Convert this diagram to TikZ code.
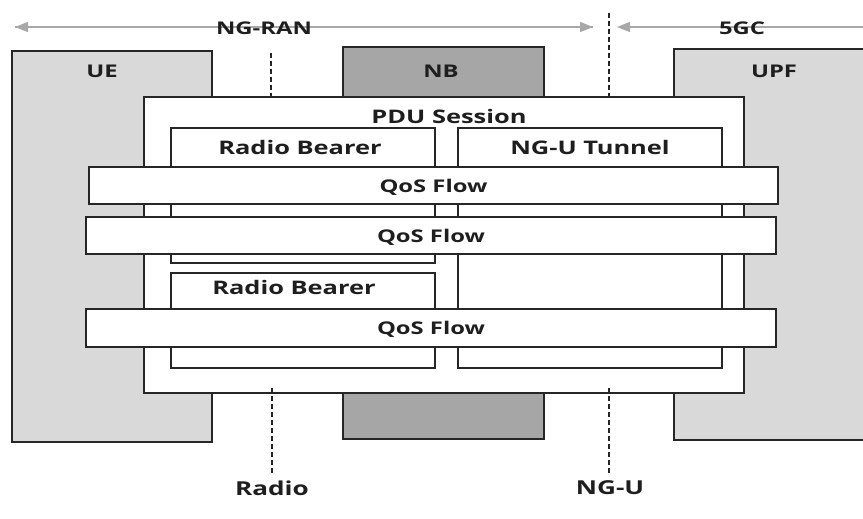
\documentclass[tikz,border=0pt]{standalone}
\usepackage{fontspec}
\setmainfont[FakeStretch=1.36]{Open Sans}
\usetikzlibrary{arrows.meta}
\definecolor{lightg}{HTML}{D9D9D9}
\definecolor{darkg}{HTML}{A6A6A6}
\definecolor{arrg}{HTML}{A8A8A8}
\definecolor{txt}{HTML}{1E1E1E}
\tikzset{
  box/.style={draw=black!85, line width=1.4pt, inner sep=0pt, outer sep=0pt, anchor=north west},
  lbl/.style={font=\fontsize{17.5}{20}\selectfont\bfseries, text=txt, inner sep=0pt},
  biglbl/.style={lbl, font=\fontsize{18.7}{21}\selectfont\bfseries},
  botlbl/.style={lbl, font=\fontsize{19.2}{21}\selectfont\bfseries},
  arr/.style={draw=arrg, line width=1.2pt, -{Triangle[length=13pt,width=10pt]}},
  divider/.style={draw=black!85, line width=1.5pt, dash pattern=on 5pt off 3pt}
}
\newcommand{\bx}[6]{\node[box, fill=#2, minimum width=#5pt-#3pt, minimum height=#6pt-#4pt] (#1) at (#3,#4) {};}
\begin{document}
\begin{tikzpicture}[x=1pt,y=-1pt]
\useasboundingbox (0,0) rectangle (863,519);
\clip (0,0) rectangle (863,519);
% top arrows
\coordinate (ranL) at (15,27);
\coordinate (ranR) at (593,27);
\coordinate (cnL) at (617,27);
\coordinate (cnR) at (900,27);
\draw[arr] (ranR) -- (ranL);
\draw[arr] (ranL) -- (ranR);
\draw[arr] (cnR) -- (cnL);
\node[lbl] (ngran) at (264,28) {NG-RAN};
\node[lbl] (fivegc) at (742,28) {5GC};
% network element boxes
\bx{ue}{lightg}{12}{51}{212}{442}
\bx{nb}{darkg}{343}{47}{544}{439}
\bx{upf}{lightg}{674}{49}{900}{440}
\node[lbl] (uelbl) at (102,71) {UE};
\node[lbl] (nblbl) at (441,71) {NB};
\node[lbl] (upflbl) at (774,71) {UPF};
% PDU session
\bx{pdu}{white}{144}{97}{744}{393}
\node[biglbl] (pdulbl) at (449,116) {PDU Session};
\bx{rb1}{white}{171}{128}{435}{263}
\bx{ngu}{white}{458}{128}{722}{368}
\bx{rb2}{white}{171}{273}{435}{368}
\node[biglbl] (rb1lbl) at (300,147) {Radio Bearer};
\node[biglbl] (ngulbl) at (590,147) {NG-U Tunnel};
\node[biglbl] (rb2lbl) at (294,287) {Radio Bearer};
% QoS flows
\bx{q1}{white}{89}{167}{778}{204}
\bx{q2}{white}{86}{217}{776}{254}
\bx{q3}{white}{86}{309}{776}{347}
\node[lbl] at ([yshift=-1.5pt]q1.center) {QoS Flow};
\node[lbl] at ([yshift=-1.5pt]q2.center) {QoS Flow};
\node[lbl] at ([yshift=-1.5pt]q3.center) {QoS Flow};
% interface dividers
\coordinate (rtop) at (271,53);
\coordinate (ntop) at (609,13);
\coordinate (rbot) at (272,475);
\coordinate (nbot) at (609,475);
\draw[divider] (rtop) -- (rtop |- pdu.north);
\draw[divider] (ntop) -- (ntop |- pdu.north);
\draw[divider] ([yshift=5pt]rbot |- pdu.south) -- (rbot);
\draw[divider] ([yshift=5pt]nbot |- pdu.south) -- (nbot);
\node[botlbl] (radiolbl) at (272,488) {Radio};
\node[botlbl] (ngulbl2) at (610,488) {NG-U};
\end{tikzpicture}
\end{document}
